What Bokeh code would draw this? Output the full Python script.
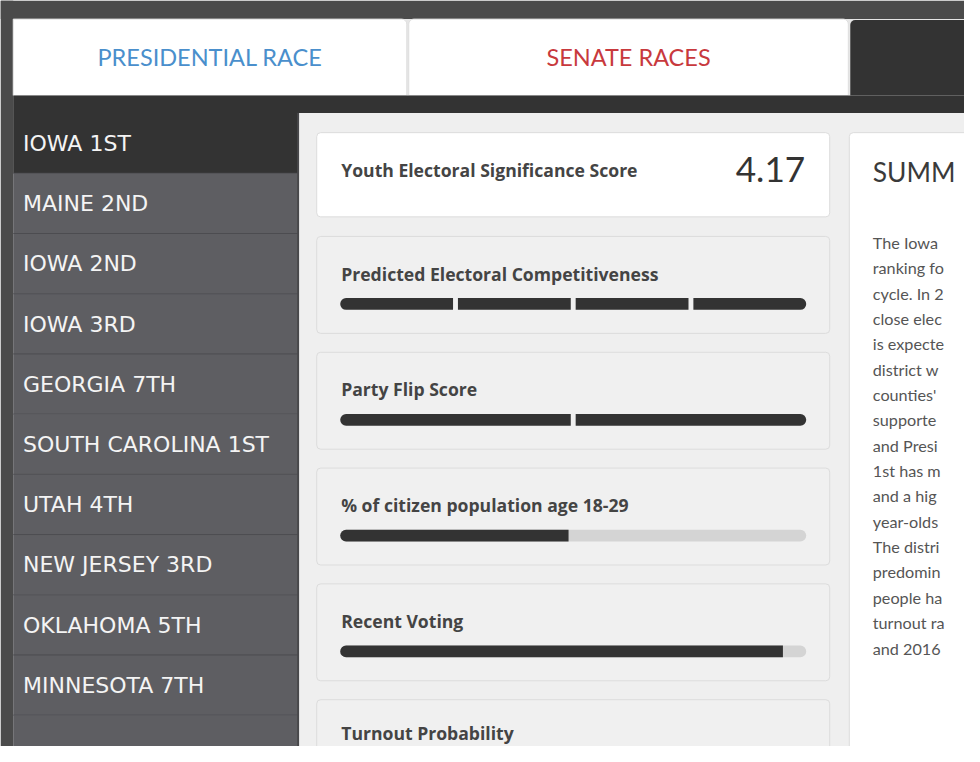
from bokeh.plotting import figure
from bokeh.models import Range1d
from bokeh.core.properties import value
from bokeh.embed import file_html
from bokeh.resources import INLINE

# ---------------- data ----------------
tab_labels = ["PRESIDENTIAL RACE", "SENATE RACES", ""]
tab_text_colors = ["#4a8fcc", "#c8393d", "#ffffff"]
districts = ["IOWA 1ST", "MAINE 2ND", "IOWA 2ND", "IOWA 3RD", "GEORGIA 7TH",
             "SOUTH CAROLINA 1ST", "UTAH 4TH", "NEW JERSEY 3RD", "OKLAHOMA 5TH",
             "MINNESOTA 7TH", ""]
selected_district = "IOWA 1ST"
score_label = "Youth Electoral Significance Score"
score_value = 4.17
metric_labels = ["Predicted Electoral Competitiveness", "Party Flip Score",
                 "% of citizen population age 18-29", "Recent Voting",
                 "Turnout Probability"]
metric_segments = [4, 2, 0, 0, 0]               # segmented bars (filled segments)
metric_shares = [None, None, 0.49, 0.95, None]  # continuous bars (share filled)
summary_title = "SUMM"
summary_lines = ["The Iowa", "ranking fo", "cycle. In 2", "close elec",
                 "is expecte", "district w", "counties'", "supporte",
                 "and Presi", "1st has m", "and a hig", "year-olds",
                 "The distri", "predomin", "people ha", "turnout ra",
                 "and 2016"]

# ---------------- figure (reference pixel space, y = -screen y) ----------------
W, H = 964, 746
REF_H = 762
S = H / REF_H                       # uniform scale so the whole page fits
p = figure(width=W, height=H, x_range=Range1d(0, W / S), y_range=Range1d(-REF_H, 0),
           x_axis_type=None, y_axis_type=None, min_border=0,
           output_backend="svg", toolbar_location=None,
           background_fill_color="#efefef", border_fill_color="#efefef",
           outline_line_color=None)
p.grid.visible = False

DARK = "#333333"
FRAME = "#4b4b4b"
SIDE = "#5e5e62"
BORDER = "#dcdcdc"


def fs(px):
    return f"{px * S:.1f}px"


def box(l, r, t, b, fill, line=None, radius=0):
    p.quad(left=[l], right=[r], top=[-t], bottom=[-b], fill_color=fill,
           line_color=line, line_width=1, border_radius=radius)


def label(x, y, txt, font, size, color, style="normal", align="left"):
    p.text(x=[x], y=[-y], text=[txt], text_font=value(font), text_font_size=fs(size),
           text_color=color, text_font_style=style, text_align=align,
           text_baseline="middle")


# outer frame
box(0, 1000, 0, 19, FRAME)
box(0, 13, 0, 800, FRAME)
box(13, 1000, 19, 97, "#e6e6e6")
# tabs
tab_edges = [(13, 415), (417, 866), (868, 1010)]
for i, (l, r) in enumerate(tab_edges):
    fill = DARK if i == 2 else "#ffffff"
    rad = (0, 5, 0, 0) if i == 0 else (5, 5, 0, 0)
    box(l, r, 19 if i < 2 else 20, 97, fill, None if i == 2 else "#dedede", rad)
    if tab_labels[i]:
        label((l + r) / 2, 58, tab_labels[i], "Lato", 24, tab_text_colors[i], align="center")
box(13, 1000, 97, 115, DARK)

# sidebar
item_h = 61.5
for i, d in enumerate(districts):
    t = 115 + i * item_h
    box(13, 304, t, t + item_h, DARK if d == selected_district else SIDE)
    if i > 0:
        p.line(x=[13, 304], y=[-t, -t], line_color="#4c4c50", line_width=1)
    if d:
        label(23, t + 31, d, "DejaVu Sans", 22.5, "#f4f4f4")
box(303, 305, 115, 800, "#48484b")

# score card
CL, CR = 323, 847
box(CL, CR, 135, 221, "#ffffff", BORDER, 4)
label(348, 173, score_label, "Open Sans", 18, "#444444", "bold")
label(822, 173, f"{score_value:.2f}", "Lato", 36, "#333333", align="right")

# metric cards
BX0, BX1 = 347, 823
BW = BX1 - BX0
BH = 12
GAP = 5
for i, name in enumerate(metric_labels):
    t = 241 + i * 118.3
    box(CL, CR, t, t + 99, "#f0f0f0", BORDER, 4)
    label(348, min(t + 38, 748.5), name, "Open Sans", 18, "#444444", "bold")
    yc = t + 69
    n = metric_segments[i]
    s = metric_shares[i]
    if n:
        sw = (BW - (n - 1) * GAP) / n
        for k in range(n):
            l = BX0 + k * (sw + GAP)
            rad = (0, 0, 0, 0)
            if k == 0:
                rad = (6, 0, 0, 6)
            if k == n - 1:
                rad = (0, 6, 6, 0) if n > 1 else 6
            box(l, l + sw, yc - BH / 2, yc + BH / 2, DARK, None, rad)
    elif s is not None:
        box(BX0, BX1, yc - BH / 2, yc + BH / 2, "#d4d4d4", None, 6)
        box(BX0, BX0 + s * BW, yc - BH / 2, yc + BH / 2, DARK, None, (6, 0, 0, 6))

# summary card
box(867, 1010, 135, 800, "#ffffff", BORDER, 4)
label(891, 175, summary_title, "Lato", 27, "#3a3a3a")
for i, ln in enumerate(summary_lines):
    label(891, 247 + i * 25.9, ln, "Lato", 16.5, "#555555")

open("out.html", "w").write(file_html(p, INLINE))
